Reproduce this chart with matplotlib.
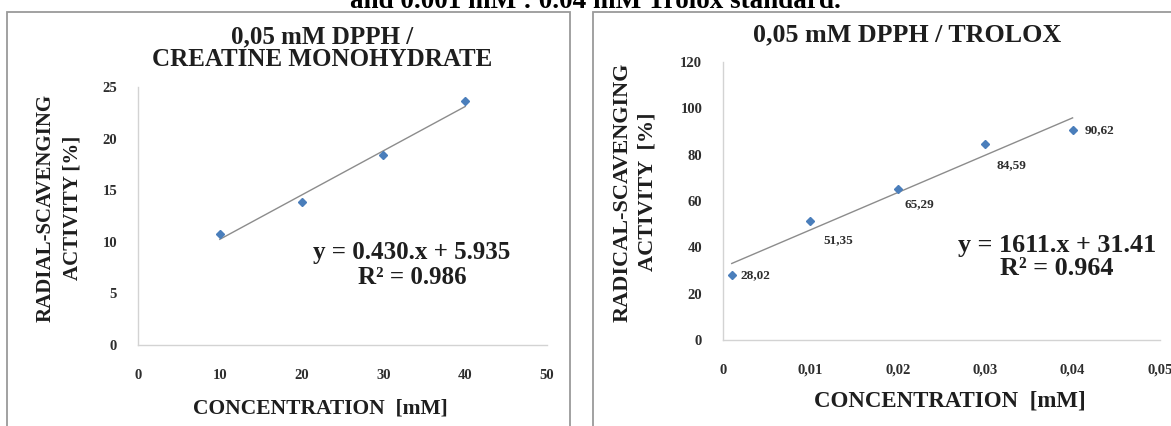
import numpy as np
import matplotlib.pyplot as plt
from matplotlib.patches import Rectangle

# datos
conc_creatina = [10, 20, 30, 40]  # mM
act_creatina = [10.8, 13.9, 18.4, 23.6]  # %
conc_trolox = [0.001, 0.01, 0.02, 0.03, 0.04]  # mM
act_trolox = [28.02, 51.35, 65.29, 84.59, 90.62]  # %
etiquetas_trolox = ["28,02", "51,35", "65,29", "84,59", "90,62"]

xticks_izq = [0, 10, 20, 30, 40, 50]
yticks_izq = [0, 5, 10, 15, 20, 25]
xticks_der = [0, 0.01, 0.02, 0.03, 0.04, 0.05]
xticklabels_der = ["0", "0,01", "0,02", "0,03", "0,04", "0,05"]
yticks_der = [0, 20, 40, 60, 80, 100, 120]

titulo_izq = "0,05 mM DPPH /\nCREATINE MONOHYDRATE"
titulo_der = "0,05 mM DPPH / TROLOX"
ylabel_izq = "RADIAL-SCAVENGING\nACTIVITY [%]"
ylabel_der = "RADICAL-SCAVENGING\nACTIVITY  [%]"
xlabel = "CONCENTRATION  [mM]"
ecuacion_izq = "y = 0.430.x + 5.935\nR² = 0.986"
ecuacion_der = "y = 1611.x + 31.41\nR² = 0.964"
texto_sup = "and 0.001 mM : 0.04 mM Trolox standard."

plt.rcParams['font.family'] = ['Liberation Serif', 'DejaVu Serif']
plt.rcParams['font.weight'] = 'bold'

W, H = 1171, 426
fig = plt.figure(figsize=(W / 100, H / 100), dpi=100)

azul = '#4a7ebb'
gris = '#8c8c8c'
txt = '#1e1e1e'

# marcos de cada grafico
fig.patches.append(Rectangle((7 / W, -0.05), (570 - 7) / W, 1.05 - 12 / H, transform=fig.transFigure,
                             fill=False, edgecolor='#9a9a9a', lw=1.3))
fig.patches.append(Rectangle((593 / W, -0.05), 0.6, 1.05 - 12 / H, transform=fig.transFigure,
                             fill=False, edgecolor='#9a9a9a', lw=1.3))

# texto del pie de figura anterior, cortado arriba como en la captura
fig.text(595 / W, 1 - 8 / H, texto_sup, ha='center', va='baseline', fontsize=19.5, color='black')


def estilo(ax):
    for s in ['top', 'right']:
        ax.spines[s].set_visible(False)
    for s in ['left', 'bottom']:
        ax.spines[s].set_color('#d3d3d3')
        ax.spines[s].set_linewidth(1.0)
    ax.tick_params(length=0, labelsize=10.5, labelcolor='#2e2e2e')
    ax.tick_params(axis='x', pad=17)
    ax.tick_params(axis='y', pad=15)


# grafico izquierdo: creatina
ax1 = fig.add_axes([138 / W, (H - 345) / H, 409 / W, 258 / H])
estilo(ax1)
x = np.array(conc_creatina)
y = np.array(act_creatina)
p = np.polyfit(x, y, 1)
xl = np.array([x.min(), x.max()])
ax1.plot(xl, np.polyval(p, xl), color=gris, lw=1)
ax1.plot(x, y, 'D', color=azul, ms=4.5, mec=azul)
ax1.set_xlim(0, 50)
ax1.set_ylim(0, 25)
ax1.set_xticks(xticks_izq)
ax1.set_yticks(yticks_izq)
ax1.text(412 / W, 1 - 265 / H, ecuacion_izq, transform=fig.transFigure, ha='center', va='center',
         fontsize=18, linespacing=1.1, color=txt)

fig.text(322 / W, 1 - 48 / H, titulo_izq, ha='center', va='center', fontsize=18, linespacing=0.95, color=txt)
fig.text(59 / W, 1 - 208 / H, ylabel_izq, ha='center', va='center', rotation=90, fontsize=15,
         linespacing=1.5, color=txt)
fig.text(320 / W, 1 - 408 / H, xlabel, ha='center', va='center', fontsize=15.5, color=txt)

# grafico derecho: trolox
ax2 = fig.add_axes([723 / W, (H - 340) / H, 437 / W, 278 / H])
estilo(ax2)
x = np.array(conc_trolox)
y = np.array(act_trolox)
p = np.polyfit(x, y, 1)
xl = np.array([x.min(), x.max()])
ax2.plot(xl, np.polyval(p, xl), color=gris, lw=1)
ax2.plot(x, y, 'D', color=azul, ms=4.5, mec=azul)
desplaz = [(24, 0), (28, -19), (22, -15), (26, -21), (27, 0)]
for xi, yi, et, d in zip(x, y, etiquetas_trolox, desplaz):
    ax2.annotate(et, (xi, yi), xytext=d, textcoords='offset pixels', ha='center', va='center',
                 fontsize=9.5, color='#2e2e2e')
ax2.set_xlim(0, 0.05)
ax2.set_ylim(0, 120)
ax2.set_xticks(xticks_der)
ax2.set_xticklabels(xticklabels_der)
ax2.set_yticks(yticks_der)
ax2.text(1057 / W, 1 - 257 / H, ecuacion_der, transform=fig.transFigure, ha='center', va='center',
         fontsize=18.8, linespacing=1.05, color=txt)

fig.text(907 / W, 1 - 35 / H, titulo_der, ha='center', va='center', fontsize=18.7, color=txt)
fig.text(635 / W, 1 - 192 / H, ylabel_der, ha='center', va='center', rotation=90, fontsize=16,
         linespacing=1.35, color=txt)
fig.text(950 / W, 1 - 401 / H, xlabel, ha='center', va='center', fontsize=16.5, color=txt)

fig.savefig('out.png', dpi=100)
